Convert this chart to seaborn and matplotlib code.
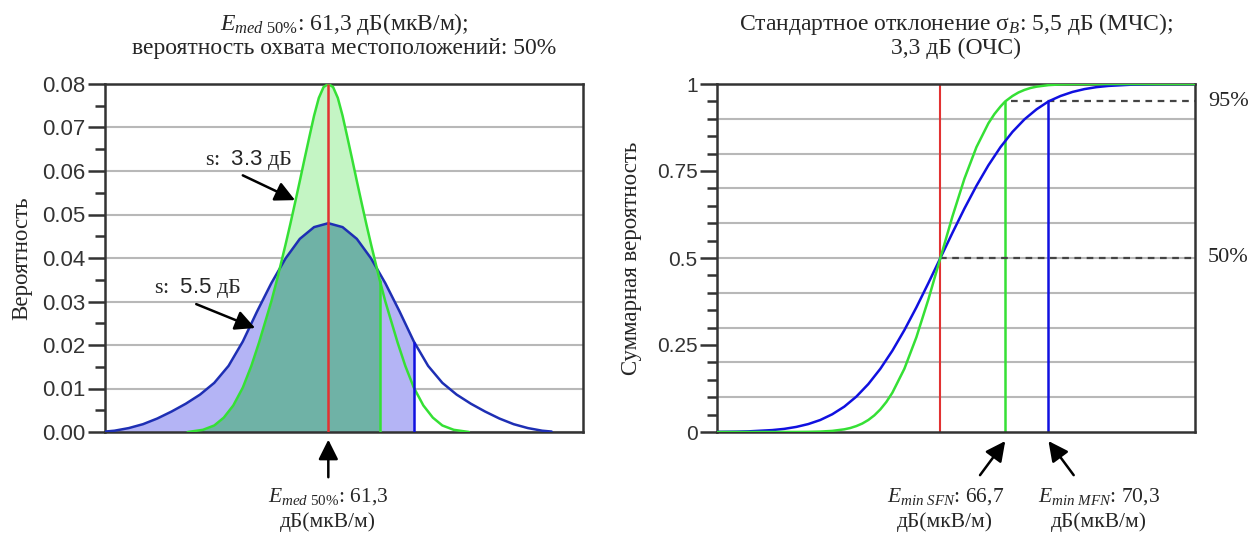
import numpy as np
import matplotlib
matplotlib.use("Agg")
import matplotlib.pyplot as plt
from matplotlib.ticker import MultipleLocator, FixedLocator, FuncFormatter
import seaborn as sns

# field strength values, dB(uV/m)
e_med = 61.3
e_sfn = 66.7
e_mfn = 70.3

# left panel: probability density
pdf_mfn_x = [37.8, 38.8, 40.3, 41.8, 43.3, 44.8, 46.3, 47.8, 49.3, 50.8, 52.3, 53.8, 55.3,
             56.8, 58.3, 59.8, 61.3, 62.8, 64.3, 65.8, 67.3, 68.8, 70.3, 71.8, 73.3, 74.8,
             76.3, 77.8, 79.3, 80.8, 82.3, 83.8, 84.8]
pdf_mfn_y = [0.0001, 0.0003, 0.0009, 0.0018, 0.0031, 0.0047, 0.0065, 0.0086, 0.0113, 0.0152,
             0.0208, 0.0277, 0.0342, 0.0399, 0.0444, 0.0471, 0.048, 0.0471, 0.0444, 0.0399,
             0.0342, 0.0277, 0.0208, 0.0152, 0.0113, 0.0086, 0.0065, 0.0047, 0.0031, 0.0018,
             0.0009, 0.0003, 0.0001]

pdf_sfn_x = [46.5, 48.1, 49.3, 50.3, 51.3, 52.3, 53.2, 54.0, 54.7, 55.3, 55.9, 56.3, 56.8,
             57.3, 57.8, 58.3, 58.8, 59.3, 59.8, 60.3, 60.8, 61.3, 61.8, 62.3, 62.8, 63.3,
             63.8, 64.3, 64.8, 65.3, 65.8, 66.3, 66.7, 67.3, 67.9, 68.6, 69.4, 70.3, 71.3,
             72.3, 73.3, 74.5, 76.1]
pdf_sfn_y = [0.0, 0.0005, 0.0015, 0.0033, 0.0061, 0.0102, 0.0152, 0.0205, 0.0256, 0.0300,
             0.0350, 0.0386, 0.0431, 0.0478, 0.0527, 0.0577, 0.0628, 0.0678, 0.0727, 0.0768,
             0.0793, 0.080, 0.0793, 0.0768, 0.0727, 0.0678, 0.0628, 0.0577, 0.0527, 0.0478,
             0.0431, 0.0386, 0.0350, 0.0300, 0.0256, 0.0205, 0.0152, 0.0102, 0.0061, 0.0033,
             0.0015, 0.0005, 0.0]

# right panel: cumulative probability
cdf_mfn_x = [42.7, 44.3, 45.3, 47.3, 48.3, 49.3, 50.3, 51.3, 52.3, 53.3, 54.3, 55.3, 56.3,
             57.3, 58.3, 59.3, 60.3, 61.3, 62.3, 63.3, 64.3, 65.3, 66.3, 67.3, 68.3, 69.3,
             70.3, 71.3, 72.3, 73.3, 74.3, 75.3, 77.3, 79.3, 82.5]
cdf_mfn_y = [0.0004, 0.001, 0.0018, 0.0055, 0.009, 0.0146, 0.0228, 0.0345, 0.051, 0.0729, 0.1016,
             0.1377, 0.1816, 0.2335, 0.2927, 0.358, 0.4279, 0.5, 0.5721, 0.642, 0.7073, 0.7665,
             0.8184, 0.8623, 0.8984, 0.9271, 0.95, 0.9655, 0.9772, 0.9854, 0.991, 0.9945, 0.9982,
             0.9995, 1.0]

cdf_sfn_x = [42.7, 49.3, 50.3, 51.3, 52.3, 53.3, 53.8, 54.3, 54.8, 55.3, 55.8, 56.3, 56.8,
             57.3, 58.3, 59.3, 60.3, 61.3, 62.3, 63.3, 64.3, 65.3, 65.8, 66.3, 66.7, 67.3,
             67.8, 68.3, 68.8, 69.3, 70.3, 71.3, 72.3, 73.3, 82.5]
cdf_sfn_y = [0.0, 0.0001, 0.0004, 0.0012, 0.0032, 0.0077, 0.0115, 0.017, 0.0244, 0.0345, 0.0478,
             0.0649, 0.0863, 0.1128, 0.1816, 0.2722, 0.381, 0.5, 0.619, 0.7278, 0.8184, 0.8872,
             0.9137, 0.9351, 0.95, 0.9655, 0.9756, 0.983, 0.9885, 0.9923, 0.9968, 0.9988, 0.9996,
             0.9999, 1.0]

p_cover = 0.95
p_med = 0.5

sns.set_theme(style="white")
plt.rcParams["font.family"] = ["Liberation Serif", "DejaVu Serif"]
plt.rcParams["mathtext.fontset"] = "custom"
plt.rcParams["mathtext.rm"] = "Liberation Serif"
plt.rcParams["mathtext.it"] = "Liberation Serif:italic"
plt.rcParams["mathtext.sf"] = "Liberation Sans"
plt.rcParams["axes.axisbelow"] = True

c_red = "#e23232"
c_green = "#35e035"
c_blue = "#1e2fb4"
c_blue2 = "#1010e0"
c_lav = "#b4b4f5"
c_lgreen = "#c4f5c4"
c_teal = "#6fb2a6"
c_spine = "#333333"
c_grid = "#b8b8b8"

fig = plt.figure(figsize=(12.54, 5.36), dpi=100)
ax1 = fig.add_axes([105 / 1254, 104 / 536, 478 / 1254, 348 / 536])
ax2 = fig.add_axes([717 / 1254, 104 / 536, 478 / 1254, 348 / 536])

for ax, fs in ((ax1, 16), (ax2, 15)):
    for s in ax.spines.values():
        s.set_color(c_spine)
        s.set_linewidth(1.8)
    ax.set_xticks([])
    ax.tick_params(axis="y", which="major", length=12, width=1.8, color=c_spine,
                   labelsize=fs, labelcolor="#333333", pad=2, left=True)
    ax.tick_params(axis="y", which="minor", length=7, width=1.8, color=c_spine, left=True)

# ---------- left: density ----------
bx = np.array(pdf_mfn_x)
by = np.array(pdf_mfn_y)
gx = np.array(pdf_sfn_x)
gy = np.array(pdf_sfn_y)
mb = bx <= e_mfn
mg = gx <= e_sfn

blue_fill = ax1.fill_between(bx[mb], by[mb], color=c_lav, lw=0, zorder=1)
ax1.fill_between(gx[mg], gy[mg], color=c_lgreen, lw=0, zorder=1.1)
teal = ax1.fill_between(gx[mg], gy[mg], color=c_teal, lw=0, zorder=1.2)
teal.set_clip_path(blue_fill.get_paths()[0], ax1.transData)

sns.lineplot(x=pdf_mfn_x, y=pdf_mfn_y, ax=ax1, color=c_blue, lw=1.8, sort=False, estimator=None, zorder=3)
sns.lineplot(x=pdf_sfn_x, y=pdf_sfn_y, ax=ax1, color=c_green, lw=1.8, sort=False, estimator=None, zorder=3)

ax1.vlines(e_med, 0, max(pdf_sfn_y), color=c_red, lw=1.8, zorder=4)
ax1.vlines(e_sfn, 0, pdf_sfn_y[pdf_sfn_x.index(e_sfn)], color=c_green, lw=1.8, zorder=4)
ax1.vlines(e_mfn, 0, pdf_mfn_y[pdf_mfn_x.index(e_mfn)], color=c_blue2, lw=1.8, zorder=4)

ax1.set_xlim(37.8, 88.1)
ax1.set_ylim(0, 0.08)
ax1.yaxis.set_major_locator(MultipleLocator(0.01))
ax1.yaxis.set_minor_locator(MultipleLocator(0.005))
ax1.yaxis.set_major_formatter(FuncFormatter(lambda v, p: f"{v:.2f}"))
ax1.yaxis.grid(True, which="major", color=c_grid, lw=1.5)

ax1.set_ylabel("Вероятность", fontsize=16.5, va="center")
ax1.yaxis.set_label_coords(-0.174, 0.5)

ax1.text(0.5, 1.141, "$E_{\\mathit{med\\ 50\\%}}$: 61,3 дБ(мкВ/м);\nвероятность охвата местоположений: 50%",
         transform=ax1.transAxes, ha="center", va="center", fontsize=17, linespacing=1.1)

arrow = dict(arrowstyle="-|>", color="black", lw=1.8, mutation_scale=30, shrinkA=0, shrinkB=0)
ax1.annotate("", xy=(57.8, 0.0533), xytext=(52.3, 0.059), arrowprops=arrow, zorder=5)
ax1.text(52.9, 0.0625, "s:  $\\mathsf{3.3}$ дБ", ha="center", va="center", fontsize=16, zorder=5)
ax1.annotate("", xy=(53.6, 0.0239), xytext=(47.4, 0.0294), arrowprops=arrow, zorder=5)
ax1.text(47.6, 0.0331, "s:  $\\mathsf{5.5}$ дБ", ha="center", va="center", fontsize=16, zorder=5)

ax1.annotate("", xy=(e_med, -0.022), xytext=(e_med, -0.13), xycoords=("data", "axes fraction"),
             textcoords=("data", "axes fraction"), arrowprops=arrow, annotation_clip=False)
ax1.text(e_med, -0.222, "$E_{\\mathit{med\\ 50\\%}}$: 61,3\nдБ(мкВ/м)", ha="center", va="center",
         fontsize=15.5, linespacing=1.35, transform=ax1.get_xaxis_transform())

# ---------- right: cumulative ----------
for lvl in np.arange(0.1, 0.95, 0.1):
    ax2.axhline(lvl, color=c_grid, lw=1.5, zorder=0.5)

sns.lineplot(x=cdf_mfn_x, y=cdf_mfn_y, ax=ax2, color=c_blue2, lw=1.8, sort=False, estimator=None, zorder=3)
sns.lineplot(x=cdf_sfn_x, y=cdf_sfn_y, ax=ax2, color=c_green, lw=1.8, sort=False, estimator=None, zorder=3)

ax2.vlines(e_med, 0, 1, color=c_red, lw=1.5, zorder=2)
ax2.vlines(e_sfn, 0, p_cover, color=c_green, lw=1.8, zorder=2)
ax2.vlines(e_mfn, 0, p_cover, color=c_blue2, lw=1.8, zorder=2)
ax2.hlines(p_cover, e_sfn + 0.5, 82.5, color="#444444", lw=1.6, linestyles=(0, (3, 2.5)), zorder=2)
ax2.hlines(p_med, e_med, 82.5, color="#444444", lw=1.6, linestyles=(0, (3, 2.5)), zorder=2)

ax2.set_xlim(42.7, 82.5)
ax2.set_ylim(0, 1)
ax2.yaxis.set_major_locator(FixedLocator([0, 0.25, 0.5, 0.75, 1]))
ax2.yaxis.set_minor_locator(MultipleLocator(0.05))
ax2.yaxis.set_major_formatter(FuncFormatter(lambda v, p: f"{v:g}"))

for ax in (ax1, ax2):
    for lab in ax.get_yticklabels():
        lab.set_fontfamily("Liberation Sans")

ax2.set_ylabel("Суммарная вероятность", fontsize=16.5, va="center")
ax2.yaxis.set_label_coords(-0.178, 0.5)

ax2.text(0.5, 1.141, "Стандартное отклонение $\\mathrm{\\sigma}_{B}$: 5,5 дБ (МЧС);\n3,3 дБ (ОЧС)",
         transform=ax2.transAxes, ha="center", va="center", fontsize=17, linespacing=1.1)

for p, lab in [(p_cover, "95%"), (p_med, "50%")]:
    ax2.text(1.027, p, lab, transform=ax2.get_yaxis_transform(), ha="left", va="center", fontsize=16)

ax2.annotate("", xy=(e_sfn, -0.026), xytext=(e_sfn - 2.1, -0.124), xycoords=("data", "axes fraction"),
             textcoords=("data", "axes fraction"), arrowprops=arrow, annotation_clip=False)
ax2.annotate("", xy=(e_mfn, -0.026), xytext=(e_mfn + 2.1, -0.124), xycoords=("data", "axes fraction"),
             textcoords=("data", "axes fraction"), arrowprops=arrow, annotation_clip=False)
ax2.text(61.7, -0.222, "$E_{\\mathit{min\\ SFN}}$: 66,7\nдБ(мкВ/м)", ha="center", va="center",
         fontsize=15.5, linespacing=1.35, transform=ax2.get_xaxis_transform())
ax2.text(74.5, -0.222, "$E_{\\mathit{min\\ MFN}}$: 70,3\nдБ(мкВ/м)", ha="center", va="center",
         fontsize=15.5, linespacing=1.35, transform=ax2.get_xaxis_transform())

fig.savefig("out.png", dpi=100)
